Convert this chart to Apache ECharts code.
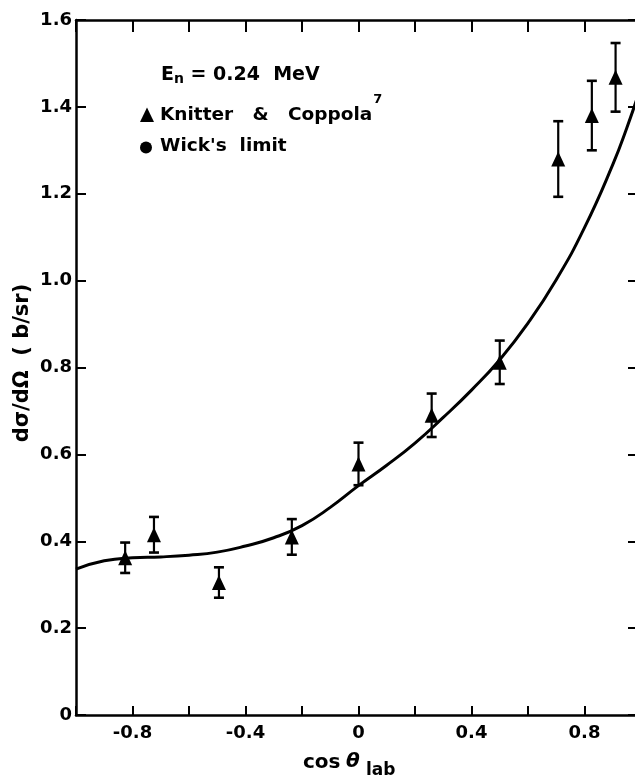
<!DOCTYPE html>
<html>
<head>
<meta charset="utf-8">
<script src="https://cdn.jsdelivr.net/npm/echarts@6/dist/echarts.min.js"></script>
<style>
  html, body { margin: 0; padding: 0; background: #fff; }
  #chart { width: 635px; height: 784px; }
</style>
</head>
<body>
<div id="chart"></div>
<script>
// Knitter & Coppola measurements at E_n = 0.24 MeV
const cosTheta  = [-0.826, -0.724, -0.494, -0.236, 0.0, 0.259, 0.5, 0.707, 0.826, 0.91];
const dSigma    = [0.362, 0.415, 0.305, 0.41, 0.578, 0.69, 0.812, 1.28, 1.38, 1.468];
const dSigmaErr = [0.035, 0.041, 0.035, 0.041, 0.049, 0.05, 0.05, 0.087, 0.08, 0.079];

// calculated angular distribution (solid curve)
const fitCos   = [-1.0, -0.9, -0.8, -0.7, -0.6, -0.5, -0.4, -0.3, -0.2, -0.1, 0.0, 0.1, 0.2, 0.3, 0.4, 0.5, 0.6, 0.7, 0.8, 0.9, 0.95, 1.0];
const fitSigma = [0.336, 0.355, 0.362, 0.364, 0.368, 0.375, 0.389, 0.408, 0.436, 0.478, 0.528, 0.575, 0.626, 0.685, 0.748, 0.818, 0.902, 1.002, 1.122, 1.267, 1.352, 1.447];

// axis ranges and tick steps
const xRange = [-1, 1];
const yRange = [0, 1.6];
const xStep = 0.2;
const yStep = 0.2;
const xLabelled = [-0.8, -0.4, 0, 0.4, 0.8];

const FONT = '"DejaVu Sans", sans-serif';
const INK = '#000';

const chart = echarts.init(document.getElementById('chart'), null, { renderer: 'canvas' });

function xLabel(v) {
  const hit = xLabelled.some(t => Math.abs(t - v) < 1e-6);
  if (!hit) return '';
  return Math.abs(v) < 1e-9 ? '0' : v.toFixed(1);
}
function yLabel(v) {
  return Math.abs(v) < 1e-9 ? '0' : v.toFixed(1);
}

const axisLine = { show: true, onZero: false, lineStyle: { color: INK, width: 2.5 } };
const boldText = { fill: INK, fontFamily: FONT, fontWeight: 'bold' };

const option = {
  backgroundColor: '#fff',
  animation: false,
  grid: {
    left: 76, top: 20, width: 565, height: 695,
    containLabel: false, outerBoundsMode: 'none'
  },
  xAxis: [
    {
      type: 'value', position: 'bottom',
      min: xRange[0], max: xRange[1], interval: xStep,
      axisLine: axisLine,
      axisTick: { show: true, inside: true, length: 9, lineStyle: { color: INK, width: 2 } },
      axisLabel: {
        show: true, margin: 9, formatter: xLabel, showMinLabel: true, showMaxLabel: true,
        color: INK, fontFamily: FONT, fontWeight: 'bold', fontSize: 18
      },
      splitLine: { show: false }
    },
    {
      type: 'value', position: 'top',
      min: xRange[0], max: xRange[1], interval: xStep,
      axisLine: axisLine,
      axisTick: { show: true, inside: true, length: 12, lineStyle: { color: INK, width: 2 } },
      axisLabel: { show: false },
      splitLine: { show: false }
    }
  ],
  yAxis: [
    {
      type: 'value', position: 'left',
      min: yRange[0], max: yRange[1], interval: yStep,
      axisLine: axisLine,
      axisTick: { show: true, inside: true, length: 10, lineStyle: { color: INK, width: 2 } },
      axisLabel: {
        show: true, margin: 4, formatter: yLabel,
        color: INK, fontFamily: FONT, fontWeight: 'bold', fontSize: 18
      },
      splitLine: { show: false }
    },
    {
      // right frame edge sits just past the page edge; only its inward ticks show
      type: 'value', position: 'right',
      min: yRange[0], max: yRange[1], interval: yStep,
      axisLine: { show: false, onZero: false },
      axisTick: { show: true, inside: true, length: 13, lineStyle: { color: INK, width: 2 } },
      axisLabel: { show: false },
      splitLine: { show: false }
    }
  ],
  series: [
    {
      name: 'calculation',
      type: 'line',
      xAxisIndex: 0, yAxisIndex: 0,
      data: fitCos.map((c, i) => [c, fitSigma[i]]),
      smooth: 0.5,
      showSymbol: false,
      clip: true,
      lineStyle: { color: INK, width: 3 },
      z: 2
    },
    {
      name: 'error bars',
      type: 'custom',
      xAxisIndex: 0, yAxisIndex: 0,
      data: cosTheta.map((c, i) => [c, dSigma[i], dSigmaErr[i]]),
      renderItem: function (params, api) {
        const x = api.value(0), y = api.value(1), e = api.value(2);
        const hi = api.coord([x, y + e]);
        const lo = api.coord([x, y - e]);
        const w = 5;
        return {
          type: 'group',
          children: [
            { type: 'line', shape: { x1: hi[0], y1: hi[1], x2: lo[0], y2: lo[1] }, style: { stroke: INK, lineWidth: 2.2 } },
            { type: 'line', shape: { x1: hi[0] - w, y1: hi[1], x2: hi[0] + w, y2: hi[1] }, style: { stroke: INK, lineWidth: 2.6 } },
            { type: 'line', shape: { x1: lo[0] - w, y1: lo[1], x2: lo[0] + w, y2: lo[1] }, style: { stroke: INK, lineWidth: 2.6 } }
          ]
        };
      },
      z: 3
    },
    {
      name: 'Knitter & Coppola',
      type: 'scatter',
      xAxisIndex: 0, yAxisIndex: 0,
      data: cosTheta.map((c, i) => [c, dSigma[i]]),
      symbol: 'triangle',
      symbolSize: [14, 15],
      itemStyle: { color: INK, opacity: 1 },
      z: 4
    }
  ],
  graphic: [
    // legend block
    {
      type: 'text', left: 161, top: 66,
      style: {
        text: '{e|E}{n|n}{r| = 0.24  MeV}',
        fill: INK,
        rich: {
          e: { fontFamily: FONT, fontWeight: 'bold', fontSize: 19, lineHeight: 20, verticalAlign: 'top' },
          n: { fontFamily: FONT, fontWeight: 'bold', fontSize: 14, lineHeight: 16, verticalAlign: 'bottom' },
          r: { fontFamily: FONT, fontWeight: 'bold', fontSize: 19, lineHeight: 20, verticalAlign: 'top' }
        }
      }
    },
    {
      type: 'polygon',
      shape: { points: [[140, 122], [147, 107.5], [154, 122]] },
      style: { fill: INK }
    },
    {
      type: 'text', left: 160, top: 93,
      style: {
        text: '{t|Knitter   &   Coppola}{s|7}',
        fill: INK,
        rich: {
          t: { fontFamily: FONT, fontWeight: 'bold', fontSize: 18.5, lineHeight: 44, verticalAlign: 'middle' },
          s: { fontFamily: FONT, fontWeight: 'bold', fontSize: 13, lineHeight: 18, verticalAlign: 'top', padding: [0, 0, 0, 1] }
        }
      }
    },
    {
      type: 'circle',
      shape: { cx: 146, cy: 147.5, r: 6 },
      style: { fill: INK }
    },
    {
      type: 'text', x: 160, y: 146,
      style: Object.assign({ text: "Wick's  limit", fontSize: 18.5, align: 'left', verticalAlign: 'middle' }, boldText)
    },
    // axis titles
    {
      type: 'text', x: 23, y: 363, rotation: Math.PI / 2,
      style: Object.assign({ text: 'd\u03c3/d\u03a9  ( b/sr)', fontSize: 21, align: 'center', verticalAlign: 'middle' }, boldText)
    },
    {
      type: 'text', x: 303, y: 763,
      style: Object.assign({ text: 'cos', fontSize: 20, align: 'left', verticalAlign: 'middle' }, boldText)
    },
    {
      type: 'text', x: 346, y: 762,
      style: Object.assign({ text: '\u03b8', fontSize: 20, fontStyle: 'italic', align: 'left', verticalAlign: 'middle' }, boldText)
    },
    {
      type: 'text', x: 366, y: 771,
      style: Object.assign({ text: 'lab', fontSize: 17, align: 'left', verticalAlign: 'middle' }, boldText)
    }
  ]
};

chart.setOption(option);
</script>
</body>
</html>
